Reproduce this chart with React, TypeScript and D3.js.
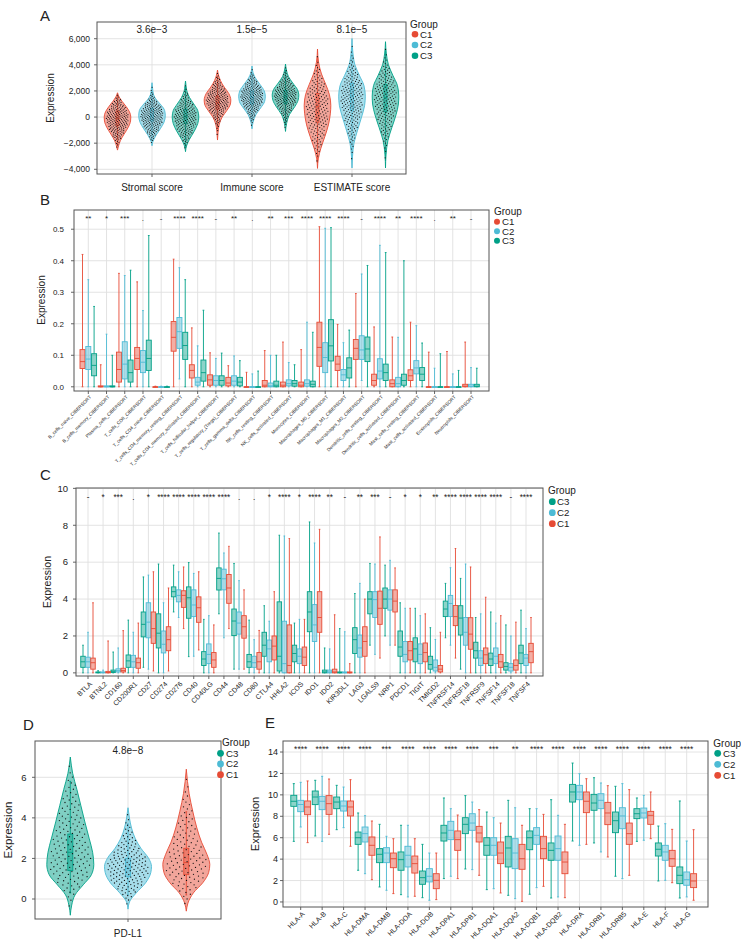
import React from "react";
import * as d3 from "d3";

const RED = "#E64B35";
const BLUE = "#4DBBD5";
const GREEN = "#00A087";
const GRID = "#e0e0e0";
const AXIS = "#555555";
const TXT = "#222222";
const FONT = "'Liberation Sans', Arial, Helvetica, sans-serif";

// ---------------- Panel A ----------------
const aCategories = ["Stromal score", "Immune score", "ESTIMATE score"];
const aGroupLabels = ["C1", "C2", "C3"];
const aPValues = ["3.6e\u22123", "1.5e\u22125", "8.1e\u22125"];
const aYTicks = [-4000, -2000, 0, 2000, 4000, 6000];
const aStromalProfiles = [
  [[-2530, 0], [-2200, 0.08], [-1800, 0.22], [-1300, 0.5], [-800, 0.8], [-300, 0.98], [0, 1], [400, 0.9], [800, 0.65], [1200, 0.35], [1550, 0.12], [1860, 0]],
  [[-2200, 0], [-1900, 0.06], [-1400, 0.3], [-900, 0.62], [-400, 0.9], [100, 1], [500, 0.95], [900, 0.7], [1300, 0.35], [1700, 0.12], [2150, 0.05], [2630, 0]],
  [[-2650, 0], [-2200, 0.08], [-1700, 0.3], [-1100, 0.65], [-500, 0.92], [0, 1], [500, 0.92], [1000, 0.62], [1500, 0.3], [2000, 0.1], [2400, 0.04], [2760, 0]],
];
const aImmuneProfiles = [
  [[-1760, 0], [-1200, 0.04], [-600, 0.12], [0, 0.35], [500, 0.7], [1000, 0.97], [1300, 1], [1800, 0.85], [2300, 0.5], [2800, 0.22], [3200, 0.08], [3600, 0]],
  [[-900, 0], [-400, 0.08], [200, 0.3], [700, 0.65], [1200, 0.95], [1600, 1], [2000, 0.92], [2500, 0.6], [3000, 0.25], [3400, 0.08], [3910, 0]],
  [[-1100, 0], [-500, 0.08], [200, 0.3], [800, 0.7], [1300, 0.95], [1700, 1], [2100, 0.9], [2600, 0.55], [3100, 0.22], [3600, 0.07], [4060, 0]],
];
const aEstimateProfiles = [
  [[-3930, 0], [-3200, 0.06], [-2400, 0.25], [-1500, 0.55], [-600, 0.82], [300, 0.97], [900, 1], [1700, 0.9], [2500, 0.62], [3300, 0.3], [4200, 0.08], [5210, 0]],
  [[-3900, 0], [-3000, 0.04], [-2000, 0.15], [-1000, 0.42], [0, 0.72], [900, 0.95], [1600, 1], [2400, 0.9], [3200, 0.55], [4000, 0.22], [4900, 0.07], [6020, 0]],
  [[-3900, 0], [-2900, 0.04], [-1800, 0.18], [-800, 0.48], [200, 0.8], [1000, 0.97], [1600, 1], [2400, 0.9], [3200, 0.55], [4000, 0.22], [4900, 0.06], [5770, 0]],
];
const aBoxStats = [
  [[-2200, -650, -100, 450, 1600], [-1800, -300, 150, 650, 2000], [-2300, -500, 50, 600, 2300]],
  [[-900, 600, 1100, 1600, 3100], [-300, 1000, 1500, 2000, 3400], [-500, 1050, 1550, 2050, 3600]],
  [[-3500, -400, 800, 1800, 4600], [-3200, 500, 1600, 2600, 5300], [-3300, 400, 1500, 2500, 5200]],
];
const aDotCounts = [[170, 180, 170], [170, 180, 175], [165, 185, 175]];

// ---------------- Panel B ----------------
const bCells = [
  "B_cells_naive_CIBERSORT", "B_cells_memory_CIBERSORT", "Plasma_cells_CIBERSORT", "T_cells_CD8_CIBERSORT",
  "T_cells_CD4_naive_CIBERSORT", "T_cells_CD4_memory_resting_CIBERSORT", "T_cells_CD4_memory_activated_CIBERSORT",
  "T_cells_follicular_helper_CIBERSORT", "T_cells_regulatory_(Tregs)_CIBERSORT", "T_cells_gamma_delta_CIBERSORT",
  "NK_cells_resting_CIBERSORT", "NK_cells_activated_CIBERSORT", "Monocytes_CIBERSORT", "Macrophages_M0_CIBERSORT",
  "Macrophages_M1_CIBERSORT", "Macrophages_M2_CIBERSORT", "Dendritic_cells_resting_CIBERSORT",
  "Dendritic_cells_activated_CIBERSORT", "Mast_cells_resting_CIBERSORT", "Mast_cells_activated_CIBERSORT",
  "Eosinophils_CIBERSORT", "Neutrophils_CIBERSORT",
];
const bSig = ["**", "*", "***", ".", "-", "****", "****", "-", "**", ".", "**", "***", "****", "****", "****", "-", "****", "**", "****", ".", "**", "-"];
const bYTicks = [0, 0.1, 0.2, 0.3, 0.4, 0.5];
const bC1 = [
  [0, 0.058, 0.08, 0.118, 0.42], [0, 0, 0, 0.003, 0.07], [0, 0.015, 0.055, 0.11, 0.36], [0, 0.055, 0.09, 0.125, 0.333],
  [0, 0, 0, 0, 0.002], [0, 0.113, 0.157, 0.207, 0.405], [0, 0.028, 0.052, 0.07, 0.187], [0, 0.005, 0.022, 0.038, 0.108],
  [0, 0.003, 0.012, 0.03, 0.067], [0, 0, 0, 0, 0.046], [0, 0, 0.005, 0.02, 0.115], [0, 0, 0.005, 0.015, 0.142],
  [0, 0, 0.005, 0.015, 0.118], [0, 0.065, 0.125, 0.205, 0.508], [0, 0.052, 0.072, 0.097, 0.198], [0, 0.087, 0.122, 0.15, 0.296],
  [0, 0.005, 0.02, 0.04, 0.19], [0, 0, 0.01, 0.022, 0.158], [0, 0.02, 0.035, 0.054, 0.205], [0, 0, 0, 0, 0.11],
  [0, 0, 0, 0, 0.112], [0, 0, 0.002, 0.008, 0.142],
];
const bC2 = [
  [0, 0.055, 0.088, 0.128, 0.34], [0, 0, 0, 0.003, 0.167], [0, 0.025, 0.072, 0.143, 0.353], [0, 0.045, 0.078, 0.115, 0.242],
  [0, 0, 0, 0, 0.002], [0.025, 0.122, 0.175, 0.22, 0.378], [0, 0.005, 0.015, 0.03, 0.13], [0, 0.005, 0.02, 0.035, 0.09],
  [0, 0.005, 0.018, 0.035, 0.098], [0, 0, 0, 0, 0.041], [0, 0, 0.003, 0.012, 0.1], [0, 0.003, 0.01, 0.022, 0.077],
  [0, 0.002, 0.01, 0.022, 0.205], [0, 0.045, 0.093, 0.14, 0.503], [0, 0.02, 0.038, 0.055, 0.14], [0.02, 0.087, 0.117, 0.162, 0.358],
  [0, 0.025, 0.05, 0.089, 0.449], [0, 0, 0.01, 0.03, 0.157], [0, 0.041, 0.06, 0.083, 0.194], [0, 0, 0, 0, 0.059],
  [0, 0, 0, 0, 0.041], [0, 0, 0.002, 0.008, 0.061],
];
const bC3 = [
  [0, 0.035, 0.068, 0.105, 0.255], [0, 0, 0, 0.003, 0.1], [0, 0.015, 0.045, 0.085, 0.37], [0, 0.052, 0.09, 0.148, 0.48],
  [0, 0, 0, 0, 0.002], [0, 0.087, 0.131, 0.173, 0.34], [0, 0.018, 0.045, 0.085, 0.243], [0, 0.005, 0.02, 0.035, 0.107],
  [0, 0.003, 0.015, 0.03, 0.083], [0, 0, 0, 0, 0.05], [0, 0, 0.005, 0.018, 0.1], [0, 0.002, 0.01, 0.02, 0.07],
  [0, 0, 0.008, 0.018, 0.173], [0, 0.082, 0.13, 0.213, 0.505], [0, 0.028, 0.06, 0.092, 0.18], [0, 0.08, 0.12, 0.158, 0.385],
  [0, 0.02, 0.045, 0.072, 0.426], [0, 0.005, 0.02, 0.04, 0.4], [0, 0.02, 0.04, 0.061, 0.139], [0, 0, 0, 0, 0.105],
  [0, 0, 0, 0, 0.052], [0, 0, 0.002, 0.008, 0.059],
];

// ---------------- Panel C ----------------
const cGenes = [
  "BTLA", "BTNL2", "CD160", "CD200R1", "CD27", "CD274", "CD276", "CD40", "CD40LG", "CD44", "CD48", "CD80", "CTLA4",
  "HHLA2", "ICOS", "IDO1", "IDO2", "KIR3DL1", "LAG3", "LGALS9", "NRP1", "PDCD1", "TIGIT", "TMIGD2", "TNFRSF14",
  "TNFRSF18", "TNFRSF9", "TNFSF14", "TNFSF18", "TNFSF4",
];
const cSig = ["-", "*", "***", ".", "*", "****", "****", "****", "****", "****", ".", ".", "*", "****", "*", "****", "**", "-", "**", "***", "-", "*", "*", "**", "****", "****", "****", "****", "-", "****"];
const cYTicks = [0, 2, 4, 6, 8, 10];
const cC3 = [
  [0, 0.3, 0.6, 0.9, 1.5], [0, 0, 0.02, 0.05, 0.12], [0, 0.02, 0.08, 0.15, 1.13], [0, 0.3, 0.65, 0.97, 2.86],
  [0.3, 1.95, 2.63, 3.3, 5.2], [0, 1.35, 2.15, 3.2, 5.9], [3.3, 4.12, 4.4, 4.66, 5.84], [0.88, 2.96, 4.07, 4.66, 5.98],
  [0, 0.4, 0.75, 1.15, 2.9], [3.2, 4.49, 5.12, 5.69, 7.58], [0.2, 2.02, 2.81, 3.46, 5.93], [0, 0.3, 0.6, 1.0, 2.86],
  [0, 0.9, 1.5, 2.2, 3.64], [0, 0.1, 0.9, 3.85, 7.46], [0, 0.6, 1.05, 1.5, 2.7], [0, 2.23, 3.3, 4.4, 8.18],
  [0, 0, 0.05, 0.15, 1.35], [0, 0, 0.01, 0.05, 2.4], [0, 1.05, 1.8, 2.45, 4.3], [1.5, 3.2, 4.0, 4.4, 5.93],
  [2.0, 3.5, 4.0, 4.6, 5.84], [0, 0.9, 1.4, 2.27, 3.8], [0, 0.6, 1.3, 1.9, 3.5], [0, 0.2, 0.45, 0.9, 2.45],
  [1.9, 3.05, 3.46, 3.89, 4.85], [0.2, 2.05, 2.97, 3.64, 5.12], [0, 0.8, 1.2, 1.66, 3.0], [0, 0.4, 0.75, 1.07, 3.3],
  [0, 0.15, 0.35, 0.55, 2.6], [0, 0.5, 1.08, 1.5, 3.4],
];
const cC2 = [
  [0, 0.3, 0.6, 0.85, 2.2], [0, 0, 0.02, 0.05, 0.15], [0, 0.05, 0.12, 0.22, 1.35], [0, 0.3, 0.6, 0.95, 2.2],
  [0.2, 1.9, 2.75, 3.8, 5.3], [0, 1.08, 1.55, 2.27, 3.8], [3.0, 3.85, 4.2, 4.5, 5.48], [0.9, 3.05, 3.68, 4.5, 5.39],
  [0, 0.5, 1.0, 1.57, 3.1], [1.9, 4.5, 5.1, 5.62, 6.5], [0.2, 2.1, 2.7, 3.3, 5.0], [0, 0.3, 0.55, 0.9, 1.8],
  [0, 0.6, 1.3, 1.78, 2.8], [0, 0, 0.5, 2.8, 7.42], [0, 0.5, 0.9, 1.3, 2.9], [0, 1.7, 2.6, 3.7, 7.04],
  [0, 0, 0.05, 0.15, 1.3], [0, 0, 0.01, 0.05, 2.23], [0, 0.85, 1.35, 2.05, 4.85], [1.0, 3.0, 3.97, 4.4, 5.9],
  [1.5, 3.4, 4.0, 4.5, 6.1], [0, 0.6, 1.0, 1.7, 3.5], [0, 0.5, 1.0, 1.57, 3.1], [0, 0.1, 0.3, 0.7, 1.81],
  [1.5, 3.05, 3.76, 4.2, 5.7], [0, 1.5, 2.2, 3.0, 5.9], [0, 0.4, 0.8, 1.2, 3.2], [0, 0.5, 0.9, 1.35, 2.7],
  [0, 0.1, 0.3, 0.5, 2.0], [0, 0.4, 0.8, 1.0, 2.4],
];
const cC1 = [
  [0, 0.2, 0.55, 0.8, 3.8], [0, 0, 0.02, 0.08, 1.73], [0, 0.05, 0.13, 0.25, 2.29], [0, 0.25, 0.55, 0.8, 2.7],
  [0.1, 1.6, 2.4, 3.3, 5.48], [0.1, 1.2, 1.8, 2.5, 4.6], [2.4, 3.55, 4.2, 4.45, 5.74], [1.24, 2.74, 3.53, 4.12, 5.48],
  [0, 0.3, 0.7, 1.1, 2.6], [2.4, 3.77, 4.6, 5.33, 6.86], [0.2, 1.88, 2.5, 3.1, 4.5], [0, 0.2, 0.6, 1.1, 2.3],
  [0, 0.7, 1.45, 2.0, 4.4], [0, 0, 0.4, 2.6, 7.28], [0, 0.4, 0.85, 1.4, 2.9], [0, 2.2, 3.0, 4.4, 7.78],
  [0, 0, 0.05, 0.2, 3.15], [0, 0, 0.01, 0.05, 0.5], [0, 0.9, 1.7, 2.5, 4.0], [0.8, 2.63, 3.5, 4.43, 7.37],
  [1.5, 3.3, 3.89, 4.5, 5.69], [0, 0.7, 1.2, 1.7, 3.5], [0, 0.6, 1.1, 1.62, 3.2], [0, 0.05, 0.2, 0.4, 2.2],
  [0.8, 2.56, 3.05, 3.65, 6.74], [0, 1.28, 2.1, 2.99, 5.74], [0, 0.5, 0.98, 1.35, 4.1], [0, 0.3, 0.6, 1.0, 3.1],
  [0, 0.15, 0.4, 0.7, 2.75], [0, 0.55, 1.15, 1.6, 3.0],
];

// ---------------- Panel D ----------------
const dCategory = "PD-L1";
const dPValue = "4.8e\u22128";
const dYTicks = [0, 2, 4, 6];
const dGroupLabels = ["C3", "C2", "C1"];
const dProfiles = [
  [[-0.8, 0], [-0.3, 0.06], [0.2, 0.2], [0.7, 0.55], [1.2, 0.9], [1.7, 1], [2.3, 0.95], [3.0, 0.8], [3.8, 0.62], [4.6, 0.45], [5.4, 0.28], [6.2, 0.1], [7.0, 0]],
  [[-0.5, 0], [-0.1, 0.08], [0.3, 0.35], [0.8, 0.75], [1.3, 0.97], [1.6, 1], [2.0, 0.88], [2.5, 0.55], [3.0, 0.3], [3.5, 0.15], [4.0, 0.06], [4.5, 0]],
  [[-0.6, 0], [-0.2, 0.07], [0.3, 0.3], [0.8, 0.7], [1.3, 0.95], [1.7, 1], [2.2, 0.88], [2.8, 0.65], [3.5, 0.45], [4.3, 0.28], [5.2, 0.12], [6.4, 0]],
];
const dBoxStats = [[0.3, 1.4, 2.3, 3.2, 5.8], [0.2, 1.1, 1.5, 2.0, 3.7], [0.2, 1.2, 1.8, 2.5, 4.3]];
const dDotCounts = [150, 160, 120];

// ---------------- Panel E ----------------
const eGenes = [
  "HLA-A", "HLA-B", "HLA-C", "HLA-DMA", "HLA-DMB", "HLA-DOA", "HLA-DOB", "HLA-DPA1", "HLA-DPB1", "HLA-DQA1",
  "HLA-DQA2", "HLA-DQB1", "HLA-DQB2", "HLA-DRA", "HLA-DRB1", "HLA-DRB5", "HLA-E", "HLA-F", "HLA-G",
];
const eSig = ["****", "****", "****", "****", "***", "****", "****", "****", "****", "***", "**", "****", "****", "****", "****", "****", "****", "****", "****"];
const eYTicks = [0, 2, 4, 6, 8, 10, 12, 14];
const eC3 = [
  [5.66, 8.93, 9.4, 9.96, 11.05], [6.16, 9.09, 9.8, 10.36, 11.36], [6.75, 8.71, 9.33, 9.8, 10.89], [2.96, 5.38, 6.0, 6.53, 8.31],
  [1.4, 3.67, 4.45, 4.98, 7.25], [0.68, 2.96, 3.95, 4.67, 7.16], [0.4, 1.65, 2.27, 2.89, 5.38], [2.18, 5.69, 6.44, 7.16, 9.71],
  [3.08, 6.38, 7.25, 7.87, 9.93], [1.15, 4.36, 5.29, 6.0, 8.4], [0.62, 3.27, 5.04, 6.13, 9.49], [0.72, 4.88, 6.0, 6.63, 8.71],
  [0.37, 3.89, 4.82, 5.51, 9.55], [5.69, 9.33, 10.27, 10.98, 12.97], [5.51, 8.56, 9.24, 10.05, 11.6], [2.4, 6.47, 7.59, 8.4, 10.8],
  [5.66, 7.78, 8.24, 8.71, 9.71], [1.96, 4.29, 4.92, 5.51, 7.09], [0.37, 1.71, 2.49, 3.27, 9.43],
];
const eC2 = [
  [7.0, 8.43, 9.1, 9.49, 11.17], [5.66, 8.62, 9.4, 9.86, 11.73], [6.94, 8.49, 8.96, 9.43, 10.73], [2.64, 5.6, 6.38, 7.0, 8.06],
  [1.09, 3.67, 4.57, 5.07, 6.13], [0.47, 3.27, 4.36, 5.2, 7.16], [0.16, 1.87, 2.4, 3.11, 4.57], [2.4, 5.82, 6.69, 7.53, 8.71],
  [3.02, 6.69, 7.37, 8.24, 9.33], [1.24, 4.36, 5.29, 6.0, 7.87], [0.31, 3.11, 4.57, 5.91, 8.8], [1.34, 5.38, 6.22, 6.94, 8.71],
  [0.47, 3.89, 4.98, 6.16, 8.09], [5.29, 9.55, 10.27, 10.89, 11.98], [4.67, 8.71, 9.49, 10.11, 11.11], [2.18, 6.84, 8.03, 8.8, 11.05],
  [5.76, 7.84, 8.31, 8.77, 9.96], [2.02, 3.89, 4.67, 5.29, 7.31], [0.47, 1.56, 2.08, 2.8, 5.69],
];
const eC1 = [
  [5.54, 8.15, 8.87, 9.43, 11.3], [6.32, 8.18, 9.18, 9.93, 11.48], [5.2, 8.03, 8.87, 9.43, 11.42], [2.08, 4.36, 5.29, 6.07, 7.56],
  [0.78, 3.2, 4.04, 4.57, 5.91], [0.53, 2.7, 3.58, 4.29, 5.91], [0.22, 1.24, 2.02, 2.64, 4.57], [2.18, 4.82, 5.82, 6.63, 8.12],
  [2.49, 5.6, 6.44, 7.06, 8.62], [0.84, 3.58, 4.57, 5.6, 7.37], [0.06, 3.05, 4.04, 5.38, 7.16], [1.46, 4.04, 4.98, 6.13, 8.18],
  [0.4, 2.64, 3.73, 4.67, 7.25], [5.38, 8.34, 9.4, 10.27, 11.51], [4.2, 7.22, 8.31, 9.3, 10.86], [2.49, 5.38, 6.38, 7.37, 10.49],
  [5.91, 7.25, 8.09, 8.46, 10.27], [1.8, 3.33, 4.04, 4.82, 6.78], [0.16, 1.34, 1.96, 2.64, 6.75],
];

// ---------------- helpers ----------------
function widthAt(profile: number[][], v: number): number {
  if (v <= profile[0][0] || v >= profile[profile.length - 1][0]) return 0;
  for (let k = 1; k < profile.length; k++) {
    if (v <= profile[k][0]) {
      const [v0, w0] = profile[k - 1];
      const [v1, w1] = profile[k];
      return w0 + ((w1 - w0) * (v - v0)) / (v1 - v0);
    }
  }
  return 0;
}

// points placed at the quantiles of the drawn density, deterministic spread
function violinPoints(profile: number[][], n: number): number[][] {
  const lo = profile[0][0];
  const hi = profile[profile.length - 1][0];
  const steps = 300;
  const vs = d3.range(steps + 1).map((k) => lo + ((hi - lo) * k) / steps);
  const ws = vs.map((v) => widthAt(profile, v));
  const cum = [0];
  for (let k = 1; k <= steps; k++) cum.push(cum[k - 1] + (ws[k - 1] + ws[k]) / 2);
  const total = cum[steps];
  const out: number[][] = [];
  for (let i = 0; i < n; i++) {
    const t = ((i + 0.5) / n) * total;
    let k = d3.bisectLeft(cum, t);
    if (k < 1) k = 1;
    const f = (t - cum[k - 1]) / Math.max(cum[k] - cum[k - 1], 1e-9);
    const v = vs[k - 1] + f * (vs[k] - vs[k - 1]);
    const frac = ((i * 0.6180339887) % 1) * 2 - 1;
    out.push([v, frac * widthAt(profile, v)]);
  }
  return out;
}

type Geo = { left: number; right: number; top: number; bottom: number };

function Grid({ g, y, yTicks, xs }: { g: Geo; y: any; yTicks: number[]; xs: number[] }) {
  return (
    <g>
      {yTicks.map((t) => (
        <line key={"h" + t} x1={g.left} x2={g.right} y1={y(t)} y2={y(t)} stroke={GRID} strokeWidth={0.9} />
      ))}
      {xs.map((x, i) => (
        <line key={"v" + i} x1={x} x2={x} y1={g.top} y2={g.bottom} stroke={GRID} strokeWidth={0.9} />
      ))}
    </g>
  );
}

function Frame({ g, y, yTicks, fmt, xs, labelEnd, fs }: any) {
  return (
    <g>
      <rect x={g.left} y={g.top} width={g.right - g.left} height={g.bottom - g.top} fill="none" stroke={AXIS} strokeWidth={1} />
      {yTicks.map((t: number) => (
        <g key={"yt" + t}>
          <line x1={g.left - 3} x2={g.left} y1={y(t)} y2={y(t)} stroke={AXIS} strokeWidth={0.9} />
          <text x={labelEnd} y={y(t)} dy="0.35em" textAnchor="end" fontSize={fs} fill={TXT}>
            {fmt(t)}
          </text>
        </g>
      ))}
      {xs.map((x: number, i: number) => (
        <line key={"xt" + i} x1={x} x2={x} y1={g.bottom} y2={g.bottom + 3} stroke={AXIS} strokeWidth={0.9} />
      ))}
    </g>
  );
}

function BoxMark({ cx, s, color, w, y, sw = 0.9 }: any) {
  const [lo, q1, med, q3, hi] = s;
  const cap = w * 0.35;
  const top = y(q3);
  const h = Math.max(y(q1) - y(q3), 0.6);
  return (
    <g>
      <line x1={cx} x2={cx} y1={y(hi)} y2={top} stroke={color} strokeWidth={sw} />
      <line x1={cx} x2={cx} y1={y(q1)} y2={y(lo)} stroke={color} strokeWidth={sw} />
      <line x1={cx - cap / 2} x2={cx + cap / 2} y1={y(hi)} y2={y(hi)} stroke={color} strokeWidth={sw} />
      <line x1={cx - cap / 2} x2={cx + cap / 2} y1={y(lo)} y2={y(lo)} stroke={color} strokeWidth={sw} />
      <rect x={cx - w / 2} y={top} width={w} height={h} fill={color} fillOpacity={0.45} stroke={color} strokeWidth={sw} />
      <line x1={cx - w / 2} x2={cx + w / 2} y1={y(med)} y2={y(med)} stroke={color} strokeWidth={sw} />
    </g>
  );
}

function Legend({ gx, gy, cx, cys, tx, labels, colors, r, fs }: any) {
  return (
    <g>
      <text x={gx} y={gy} dy="0.35em" fontSize={fs} fill={TXT}>
        Group
      </text>
      {labels.map((l: string, i: number) => (
        <g key={l}>
          <circle cx={cx} cy={cys[i]} r={r} fill={colors[i]} />
          <text x={tx} y={cys[i]} dy="0.36em" fontSize={fs - 0.3} fill={TXT}>
            {l}
          </text>
        </g>
      ))}
    </g>
  );
}

function RotLabels({ xs, labels, y0, fs }: any) {
  return (
    <g>
      {labels.map((l: string, i: number) => (
        <text
          key={l}
          transform={`translate(${xs[i] + 1},${y0}) rotate(-45)`}
          textAnchor="end"
          dy="0.7em"
          fontSize={fs}
          fill={TXT}
        >
          {l}
        </text>
      ))}
    </g>
  );
}

function YTitle({ x, y, fs }: any) {
  return (
    <text transform={`translate(${x},${y}) rotate(-90)`} textAnchor="middle" fontSize={fs} fill={TXT}>
      Expression
    </text>
  );
}

// ---------------- panels ----------------
function PanelA() {
  const g = { left: 97, right: 406, top: 22, bottom: 174 };
  const y = d3.scaleLinear().domain([-4360, 7279]).range([g.bottom, g.top]);
  const x = d3.scalePoint().domain(aCategories).range([152, 352]);
  const xs = aCategories.map((c) => x(c) as number);
  const colors = [RED, BLUE, GREEN];
  const offsets = [-34.5, 0, 33.5];
  const profiles = [aStromalProfiles, aImmuneProfiles, aEstimateProfiles];
  const maxHalf = 13.3;
  const fmt = d3.format(",");
  return (
    <g>
      <Grid g={g} y={y} yTicks={aYTicks} xs={xs} />
      {profiles.map((grp, ci) =>
        grp.map((p, gi) => {
          const cx = xs[ci] + offsets[gi];
          const area = d3
            .area<number[]>()
            .y((d) => y(d[0]))
            .x0((d) => cx - d[1] * maxHalf)
            .x1((d) => cx + d[1] * maxHalf)
            .curve(d3.curveMonotoneY);
          const pts = violinPoints(p, aDotCounts[ci][gi]);
          return (
            <g key={ci + "-" + gi}>
              <path d={area(p) || ""} fill={colors[gi]} fillOpacity={0.5} stroke={colors[gi]} strokeWidth={0.9} />
              <BoxMark cx={cx} s={aBoxStats[ci][gi]} color={colors[gi]} w={3} y={y} sw={0.8} />
              {pts.map((q, k) => (
                <circle key={k} cx={cx + q[1] * maxHalf * 0.85} cy={y(q[0])} r={0.6} fill="#111" />
              ))}
            </g>
          );
        })
      )}
      <Frame g={g} y={y} yTicks={aYTicks} fmt={fmt} xs={xs} labelEnd={90} fs={8.5} />
      {aPValues.map((p, i) => (
        <text key={p} x={xs[i]} y={32.6} textAnchor="middle" fontSize={10} fill={TXT}>
          {p}
        </text>
      ))}
      {aCategories.map((c, i) => (
        <text key={c} x={xs[i]} y={190.5} textAnchor="middle" fontSize={10} fill={TXT}>
          {c}
        </text>
      ))}
      <YTitle x={53.5} y={98} fs={10} />
      <Legend gx={410} gy={24} cx={415} cys={[34.3, 45, 55.7]} tx={420} labels={aGroupLabels} colors={colors} r={3.3} fs={10} />
      <text x={40} y={20.5} fontSize={15} fill={TXT}>
        A
      </text>
    </g>
  );
}

function BoxPanel({ g, y, cats, xRange, sets, colors, offsets, boxW, yTicks, fmt, labelEnd, tickFs, sig, sigY, sigFs, labelFs, labelY0 }: any) {
  const x = d3.scalePoint().domain(cats).range(xRange);
  const xs = cats.map((c: string) => x(c) as number);
  return (
    <g>
      <Grid g={g} y={y} yTicks={yTicks} xs={xs} />
      {sets.map((set: number[][], gi: number) =>
        set.map((s, ci) => <BoxMark key={gi + "-" + ci} cx={xs[ci] + offsets[gi]} s={s} color={colors[gi]} w={boxW} y={y} />)
      )}
      <Frame g={g} y={y} yTicks={yTicks} fmt={fmt} xs={xs} labelEnd={labelEnd} fs={tickFs} />
      {sig.map((s: string, i: number) => (
        <text key={i} x={xs[i]} y={sigY} textAnchor="middle" fontSize={sigFs} fill={TXT}>
          {s}
        </text>
      ))}
      <RotLabels xs={xs} labels={cats} y0={labelY0} fs={labelFs} />
    </g>
  );
}

function PanelB() {
  const g = { left: 74, right: 489, top: 210, bottom: 391 };
  const y = d3.scaleLinear().domain([-0.0133, 0.561]).range([g.bottom, g.top]);
  const colors = [RED, BLUE, GREEN];
  return (
    <g>
      <BoxPanel
        g={g} y={y} cats={bCells} xRange={[88.3, 471]} sets={[bC1, bC2, bC3]} colors={colors}
        offsets={[-5.8, 0, 5.8]} boxW={5} yTicks={bYTicks} fmt={d3.format(".1f")} labelEnd={64} tickFs={8}
        sig={bSig} sigY={220.7} sigFs={8} labelFs={4.7} labelY0={395}
      />
      <YTitle x={45} y={300} fs={10} />
      <Legend gx={494} gy={211} cx={497} cys={[221.7, 231.2, 240.7]} tx={502} labels={["C1", "C2", "C3"]} colors={colors} r={3} fs={10} />
      <text x={40} y={205} fontSize={15} fill={TXT}>
        B
      </text>
    </g>
  );
}

function PanelC() {
  const g = { left: 76, right: 543, top: 488, bottom: 676 };
  const y = d3.scaleLinear().domain([-0.17, 10.02]).range([g.bottom, g.top]);
  const colors = [GREEN, BLUE, RED];
  return (
    <g>
      <BoxPanel
        g={g} y={y} cats={cGenes} xRange={[88, 526]} sets={[cC3, cC2, cC1]} colors={colors}
        offsets={[-5, 0, 5]} boxW={4.5} yTicks={cYTicks} fmt={d3.format("d")} labelEnd={68} tickFs={9.5}
        sig={cSig} sigY={499.5} sigFs={8.2} labelFs={7} labelY0={681}
      />
      <YTitle x={50.5} y={582} fs={10.5} />
      <Legend gx={548} gy={490} cx={552.3} cys={[501.7, 512.7, 523.7]} tx={557} labels={["C3", "C2", "C1"]} colors={colors} r={3.4} fs={10} />
      <text x={40} y={480} fontSize={15} fill={TXT}>
        C
      </text>
    </g>
  );
}

function PanelD() {
  const g = { left: 35, right: 221, top: 741, bottom: 919 };
  const y = d3.scaleLinear().domain([-0.986, 7.79]).range([g.bottom, g.top]);
  const cx0 = (g.left + g.right) / 2;
  const colors = [GREEN, BLUE, RED];
  const offsets = [-57.7, 0, 58.3];
  const maxHalf = 23.5;
  return (
    <g>
      <Grid g={g} y={y} yTicks={dYTicks} xs={[cx0]} />
      {dProfiles.map((p, gi) => {
        const cx = cx0 + offsets[gi];
        const area = d3
          .area<number[]>()
          .y((d) => y(d[0]))
          .x0((d) => cx - d[1] * maxHalf)
          .x1((d) => cx + d[1] * maxHalf)
          .curve(d3.curveMonotoneY);
        const pts = violinPoints(p, dDotCounts[gi]);
        return (
          <g key={gi}>
            <path d={area(p) || ""} fill={colors[gi]} fillOpacity={0.5} stroke={colors[gi]} strokeWidth={0.9} />
            <BoxMark cx={cx} s={dBoxStats[gi]} color={colors[gi]} w={5} y={y} />
            {pts.map((q, k) => (
              <circle key={k} cx={cx + q[1] * maxHalf * 0.9} cy={y(q[0])} r={0.65} fill="#111" />
            ))}
          </g>
        );
      })}
      <Frame g={g} y={y} yTicks={dYTicks} fmt={d3.format("d")} xs={[cx0]} labelEnd={26.5} fs={9.5} />
      <text x={cx0} y={753.6} textAnchor="middle" fontSize={10} fill={TXT}>
        {dPValue}
      </text>
      <text x={cx0} y={936.5} textAnchor="middle" fontSize={10} fill={TXT}>
        {dCategory}
      </text>
      <YTitle x={11.5} y={830} fs={11.5} />
      <Legend gx={222} gy={742.7} cx={220.5} cys={[753.3, 764, 774.7]} tx={226} labels={dGroupLabels} colors={colors} r={3.4} fs={10} />
      <text x={23} y={730} fontSize={15} fill={TXT}>
        D
      </text>
    </g>
  );
}

function PanelE() {
  const g = { left: 283, right: 708, top: 741, bottom: 907 };
  const y = d3.scaleLinear().domain([-0.47, 15.03]).range([g.bottom, g.top]);
  const colors = [GREEN, BLUE, RED];
  return (
    <g>
      <BoxPanel
        g={g} y={y} cats={eGenes} xRange={[300.7, 686.7]} sets={[eC3, eC2, eC1]} colors={colors}
        offsets={[-6.9, 0, 6.9]} boxW={6} yTicks={eYTicks} fmt={d3.format("d")} labelEnd={278} tickFs={9}
        sig={eSig} sigY={752.2} sigFs={8.5} labelFs={7} labelY0={911}
      />
      <YTitle x={258.5} y={824} fs={11} />
      <Legend gx={713.3} gy={743.3} cx={717.7} cys={[753.3, 764.3, 775.3]} tx={723} labels={["C3", "C2", "C1"]} colors={colors} r={3.4} fs={10} />
      <text x={265} y={728} fontSize={15} fill={TXT}>
        E
      </text>
    </g>
  );
}

export default function App() {
  return (
    <svg
      width={741}
      height={945}
      viewBox="0 0 741 945"
      style={{ position: "absolute", left: 0, top: 0, background: "#fff", fontFamily: FONT }}
    >
      <rect width={741} height={945} fill="#fff" />
      <PanelA />
      <PanelB />
      <PanelC />
      <PanelD />
      <PanelE />
    </svg>
  );
}
